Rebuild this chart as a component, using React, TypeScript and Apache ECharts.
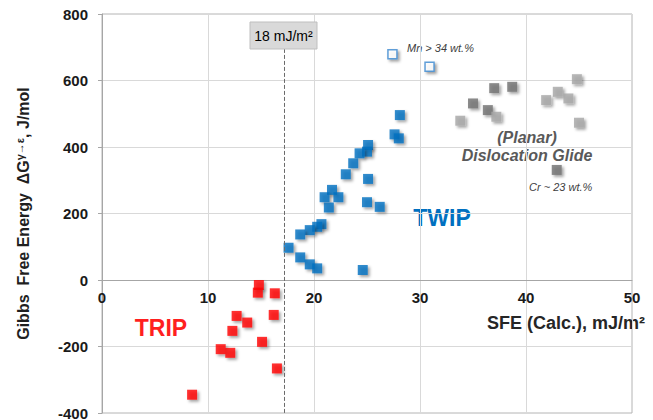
import React, { useEffect, useRef } from "react";
import * as echarts from "echarts";

const xTicks = { min: 0, max: 50, interval: 10 };
const yTicks = { min: -400, max: 800, interval: 200 };

const twipPoints = [
  [28.1, 496], [27.6, 438], [28.0, 426], [25.1, 406], [25.0, 386], [24.3, 381],
  [23.7, 351], [23.0, 318], [25.1, 304], [21.7, 271], [21.0, 249], [22.3, 249],
  [21.4, 218], [25.0, 234], [26.2, 220], [20.7, 168], [20.3, 160], [19.6, 150],
  [18.7, 137], [17.6, 97], [18.7, 68], [19.6, 47], [20.3, 35], [24.6, 30],
];
const highMnPoints = [[27.4, 679], [30.9, 641]];
const glideDarkPoints = [[37.0, 577], [38.7, 581], [35.0, 531], [36.4, 511], [42.9, 331]];
const glideLightPoints = [[37.2, 491], [33.8, 479], [44.8, 604], [43.0, 566], [41.9, 541], [44.0, 546], [45.0, 473]];
const tripPoints = [
  [14.8, -15], [14.7, -38], [16.3, -40], [12.7, -108], [13.7, -128], [16.2, -105],
  [12.3, -153], [15.1, -186], [11.2, -208], [12.1, -219], [16.5, -266], [8.5, -345],
];
const sfeThreshold = 17.2;
const thresholdLabel = "18 mJ/m²";

const FONT = "'Liberation Sans', Arial, sans-serif";
const shadow = { shadowBlur: 3, shadowOffsetX: 2, shadowOffsetY: 2, shadowColor: "rgba(0,0,0,0.45)" };

const GRID_TOP = 14;
const GRID_BOTTOM = 7;
const CHART_H = 420;

export default function App() {
  const ref = useRef<HTMLDivElement>(null);
  useEffect(() => {
    const chart = echarts.init(ref.current!, null, { renderer: "svg" });
    // shift the x axis (line + labels) from the bottom edge up to y = 0
    const plotH = CHART_H - GRID_TOP - GRID_BOTTOM;
    const zeroFromBottom = (plotH * (0 - yTicks.min)) / (yTicks.max - yTicks.min);
    const sq = (name: string, data: number[][], color: string, extra: any = {}) => ({
      name,
      type: "scatter",
      data,
      symbol: "rect",
      symbolSize: 10,
      itemStyle: { color, ...shadow, ...extra },
      z: 3,
    });
    chart.setOption({
      animation: false,
      grid: {
        left: 102, top: GRID_TOP, right: 21, bottom: GRID_BOTTOM,
        containLabel: false, outerBoundsMode: "none",
        show: true, borderColor: "#b5b5b5", borderWidth: 1, backgroundColor: "transparent",
      },
      xAxis: {
        type: "value",
        ...xTicks,
        position: "bottom",
        offset: -zeroFromBottom,
        axisLine: { onZero: false, lineStyle: { color: "#a6a6a6", width: 1 } },
        axisTick: { show: false },
        axisLabel: { fontFamily: FONT, fontSize: 15, fontWeight: "bold", color: "#1a1a1a", margin: 10, showMaxLabel: true },
        splitLine: { show: true, lineStyle: { color: "#d9d9d9" } },
      },
      yAxis: {
        type: "value",
        ...yTicks,
        axisLine: { show: true, onZero: false, lineStyle: { color: "#a6a6a6" } },
        axisTick: { show: true, length: 4, lineStyle: { color: "#a6a6a6" } },
        axisLabel: { fontFamily: FONT, fontSize: 15, fontWeight: "bold", color: "#1a1a1a", margin: 14 },
        splitLine: { show: true, lineStyle: { color: "#d9d9d9" } },
        name: "{a|Gibbs  Free Energy  ΔG}{s|γ→ε}{a|, J/mol}",
        nameLocation: "middle",
        nameRotate: 90,
        nameGap: 69,
        nameTextStyle: {
          fontFamily: FONT,
          fontSize: 16,
          fontWeight: "bold",
          color: "#1f1f1f",
          rich: {
            a: { fontFamily: FONT, fontSize: 16, fontWeight: "bold", color: "#1f1f1f", lineHeight: 19 },
            s: { fontFamily: FONT, fontSize: 11, fontWeight: "bold", color: "#1f1f1f", verticalAlign: "top", lineHeight: 19 },
          },
        },
      },
      series: [
        {
          ...sq("TRIP", tripPoints, "#ff0000"),
          markLine: {
            silent: true,
            symbol: "none",
            label: { show: false },
            lineStyle: { color: "#6b6b6b", type: "dashed", width: 1, shadowBlur: 0, shadowOffsetX: 0, shadowOffsetY: 0 },
            data: [[{ coord: [sfeThreshold, 695] }, { coord: [sfeThreshold, -400] }]],
          },
        },
        sq("TWIP", twipPoints, "#0070c0"),
        {
          ...sq("Mn", highMnPoints, "#ffffff", { borderColor: "#3a87cf", borderWidth: 1.5 }),
          symbolSize: 9,
        },
        sq("GlideDark", glideDarkPoints, "#707070"),
        sq("GlideLight", glideLightPoints, "#a6a6a6"),
      ],
      graphic: [
        { type: "rect", shape: { x: 250, y: 22, width: 67, height: 27 }, style: { fill: "#d9d9d9", stroke: "#bfbfbf", lineWidth: 1 }, z: 10 },
        { type: "text", x: 283.5, y: 35.5, style: { text: thresholdLabel, fontFamily: FONT, fontSize: 14, fill: "#000", align: "center", verticalAlign: "middle" }, z: 11 },
        { type: "text", x: 161, y: 328, style: { text: "TRIP", fontFamily: FONT, fontSize: 23, fontWeight: "bold", fill: "#ff1f1f", align: "center", verticalAlign: "middle" } },
        { type: "text", x: 442, y: 218, style: { text: "TWIP", fontFamily: FONT, fontSize: 23, fontWeight: "bold", fill: "#0070c0", align: "center", verticalAlign: "middle" } },
        { type: "text", x: 527, y: 137, style: { text: "(Planar)", fontFamily: FONT, fontSize: 16, fontWeight: "bold", fontStyle: "italic", fill: "#595959", align: "center", verticalAlign: "middle" } },
        { type: "text", x: 527, y: 155, style: { text: "Dislocation Glide", fontFamily: FONT, fontSize: 16, fontWeight: "bold", fontStyle: "italic", fill: "#595959", align: "center", verticalAlign: "middle" } },
        { type: "text", x: 407, y: 48, style: { text: "Mn > 34 wt.%", fontFamily: FONT, fontSize: 11, fontStyle: "italic", fill: "#404040", align: "left", verticalAlign: "middle" } },
        { type: "text", x: 529, y: 187, style: { text: "Cr ~ 23 wt.%", fontFamily: FONT, fontSize: 11, fontStyle: "italic", fill: "#404040", align: "left", verticalAlign: "middle" } },
        { type: "text", x: 645, y: 323, style: { text: "SFE (Calc.), mJ/m²", fontFamily: FONT, fontSize: 18, fontWeight: "bold", fill: "#262626", align: "right", verticalAlign: "middle" } },
      ],
    });
    return () => chart.dispose();
  }, []);
  return <div ref={ref} style={{ width: 653, height: 420, position: "absolute", left: 0, top: 0 }} />;
}
